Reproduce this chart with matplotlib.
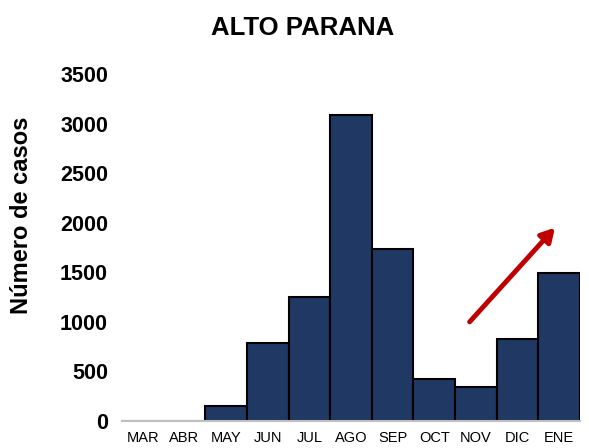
import matplotlib.pyplot as plt

### Data
meses = ["MAR", "ABR", "MAY", "JUN", "JUL", "AGO", "SEP", "OCT", "NOV", "DIC", "ENE"]
casos = [3, 3, 155, 790, 1250, 3090, 1735, 425, 345, 828, 1490]
yticks = [0, 500, 1000, 1500, 2000, 2500, 3000, 3500]

### Figure
plt.rcParams['font.family'] = ['Liberation Sans', 'DejaVu Sans']
fig = plt.figure(figsize=(5.89, 4.48), dpi=100)
ax = fig.add_axes([0.2071, 0.0603, 0.7776, 0.7745])

x = range(len(meses))
ax.bar(x, casos, width=1.0, color="#1F3864", edgecolor="black", linewidth=1.5, zorder=2)

# trend arrow
ax.annotate("", xy=(9.9, 1950), xytext=(7.85, 1000),
            arrowprops=dict(arrowstyle="-|>,head_length=0.8,head_width=0.45",
                            color="#C00000", lw=3.5, shrinkA=0, shrinkB=0))

ax.set_xlim(-0.5, len(meses) - 0.5)
ax.set_ylim(0, 3500)
ax.set_xticks(list(x))
ax.set_xticklabels(meses, fontsize=10.5)
ax.set_yticks(yticks)
ax.set_yticklabels([str(v) for v in yticks], fontsize=15.5, fontweight="bold")
ax.tick_params(axis="both", length=0)
ax.tick_params(axis="y", pad=10)
ax.tick_params(axis="x", pad=7)

for s in ["top", "right", "left"]:
    ax.spines[s].set_visible(False)
ax.spines["bottom"].set_color("#BFBFBF")
ax.spines["bottom"].set_linewidth(1.5)

fig.text(0.036, 0.52, "Número de casos", rotation=90, ha="center", va="center",
         fontsize=17, fontweight="bold")
fig.text(0.513, 0.937, "ALTO PARANA", ha="center", va="center",
         fontsize=18.5, fontweight="bold")

fig.savefig("out.png", dpi=100)
